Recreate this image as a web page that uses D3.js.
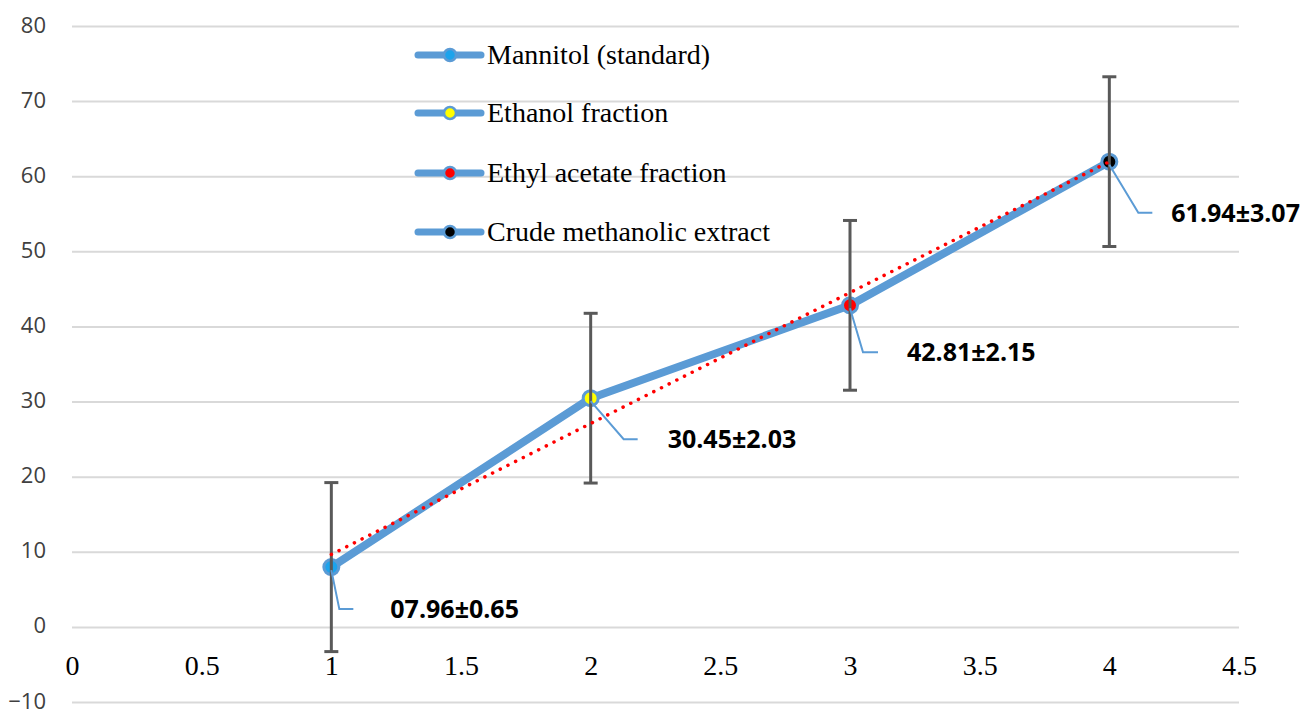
<!DOCTYPE html>
<html>
<head>
<meta charset="utf-8">
<script src="https://cdn.jsdelivr.net/npm/d3@7"></script>
<style>
  html, body { margin: 0; padding: 0; background: #fff; }
  svg { display: block; }
</style>
</head>
<body>
<svg id="chart" width="1312" height="713"></svg>
<script>
// ---- data ----
const seriesNames = ["Mannitol (standard)", "Ethanol fraction", "Ethyl acetate fraction", "Crude methanolic extract"];
const xValues = [1, 2, 3, 4];
const yValues = [7.96, 30.45, 42.81, 61.94];
const errValues = [11.25, 11.3, 11.3, 11.3];
const pointLabels = ["07.96\u00B10.65", "30.45\u00B12.03", "42.81\u00B12.15", "61.94\u00B13.07"];
const markerColors = ["#1CA3EC", "#FFFF00", "#FF0000", "#000000"];
const yTicks = [-10, 0, 10, 20, 30, 40, 50, 60, 70, 80];
const xTicks = [0, 0.5, 1, 1.5, 2, 2.5, 3, 3.5, 4, 4.5];

const svg = d3.select("#chart");
const x = d3.scaleLinear().domain([0, 4.5]).range([72, 1239]);
const y = d3.scaleLinear().domain([-10, 80]).range([702, 26]);

const lineBlue = "#5B9BD5";

// gridlines
svg.append("g")
  .attr("transform", `translate(${x(0)},0)`)
  .call(d3.axisLeft(y).tickValues(yTicks).tickSize(-(x(4.5) - x(0))).tickFormat(""))
  .call(g => g.select(".domain").remove())
  .call(g => g.selectAll("line").attr("stroke", "#D9D9D9").attr("stroke-width", 2));

// y axis labels
svg.append("g")
  .attr("transform", `translate(46,-1)`)
  .call(d3.axisLeft(y).tickValues(yTicks).tickSize(0).tickPadding(0).tickFormat(d3.format("d")))
  .call(g => g.select(".domain").remove())
  .call(g => g.selectAll("text")
      .attr("font-family", "'Open Sans', 'Noto Sans', sans-serif")
      .attr("font-size", 22)
      .attr("fill", "#404040"));

// x axis labels
svg.append("g")
  .attr("transform", `translate(0,${y(0) + 28})`)
  .call(d3.axisBottom(x).tickValues(xTicks).tickSize(0).tickPadding(0).tickFormat(d => String(d)))
  .call(g => g.select(".domain").remove())
  .call(g => g.selectAll("text")
      .attr("font-family", "'Liberation Serif', 'Times New Roman', serif")
      .attr("font-size", 28)
      .attr("fill", "#000"));

const pts = xValues.map((v, i) => ({ x: v, y: yValues[i], e: errValues[i], label: pointLabels[i], color: markerColors[i] }));

// main line
svg.append("path")
  .datum(pts)
  .attr("fill", "none")
  .attr("stroke", lineBlue)
  .attr("stroke-width", 8)
  .attr("stroke-linejoin", "round")
  .attr("stroke-linecap", "round")
  .attr("d", d3.line().x(d => x(d.x)).y(d => y(d.y)));

// markers
svg.append("g").selectAll("circle")
  .data(pts).join("circle")
  .attr("cx", d => x(d.x)).attr("cy", d => y(d.y))
  .attr("r", 7.5)
  .attr("fill", d => d.color)
  .attr("stroke", lineBlue)
  .attr("stroke-width", 3);

// error bars
const eb = svg.append("g").attr("stroke", "#595959").attr("stroke-width", 3);
pts.forEach(d => {
  eb.append("line").attr("x1", x(d.x)).attr("x2", x(d.x)).attr("y1", y(d.y + d.e)).attr("y2", y(d.y - d.e));
  [d.y + d.e, d.y - d.e].forEach(v => {
    eb.append("line").attr("x1", x(d.x) - 7).attr("x2", x(d.x) + 7).attr("y1", y(v)).attr("y2", y(v));
  });
});

// linear trendline (least squares of the series)
const mx = d3.mean(xValues), my = d3.mean(yValues);
const slope = d3.sum(xValues.map((v, i) => (v - mx) * (yValues[i] - my))) / d3.sum(xValues.map(v => (v - mx) ** 2));
const intercept = my - slope * mx;
const x0 = d3.min(xValues), x1 = d3.max(xValues);
svg.append("line")
  .attr("x1", x(x0)).attr("y1", y(intercept + slope * x0))
  .attr("x2", x(x1)).attr("y2", y(intercept + slope * x1))
  .attr("stroke", "#FF0000")
  .attr("stroke-width", 3.5)
  .attr("stroke-linecap", "round")
  .attr("stroke-dasharray", "0.1 8.5");

// data labels with leader lines
const leaderOffsets = [[8, 42, 22], [33, 41, 47], [13, 47, 28], [29, 51, 43]]; // dx to bend, dy, end dx
const labelDx = [59, 77, 57, 62];
const lg = svg.append("g");
pts.forEach((d, i) => {
  const px = x(d.x), py = y(d.y);
  const [bx, by, ex] = leaderOffsets[i];
  lg.append("path")
    .attr("d", `M${px},${py + 3} L${px + bx},${py + by} L${px + ex},${py + by}`)
    .attr("fill", "none").attr("stroke", lineBlue).attr("stroke-width", 2);
  lg.append("text")
    .attr("x", px + labelDx[i]).attr("y", py + by)
    .attr("dy", "0.36em")
    .attr("font-family", "'Open Sans', 'Noto Sans', sans-serif")
    .attr("font-weight", "bold")
    .attr("font-size", 25)
    .attr("fill", "#000")
    .text(d.label);
});

// legend
const legendY = [55, 113, 173, 232];
const leg = svg.append("g");
seriesNames.forEach((name, i) => {
  const ly = legendY[i];
  leg.append("line").attr("x1", 418).attr("x2", 481).attr("y1", ly).attr("y2", ly)
    .attr("stroke", lineBlue).attr("stroke-width", 7).attr("stroke-linecap", "round");
  leg.append("circle").attr("cx", 450).attr("cy", ly).attr("r", 6)
    .attr("fill", markerColors[i]).attr("stroke", lineBlue).attr("stroke-width", 2.5);
  leg.append("text").attr("x", 487).attr("y", ly).attr("dy", "0.33em")
    .attr("font-family", "'Liberation Serif', 'Times New Roman', serif")
    .attr("font-size", 28).attr("fill", "#000")
    .text(name);
});
</script>
</body>
</html>
